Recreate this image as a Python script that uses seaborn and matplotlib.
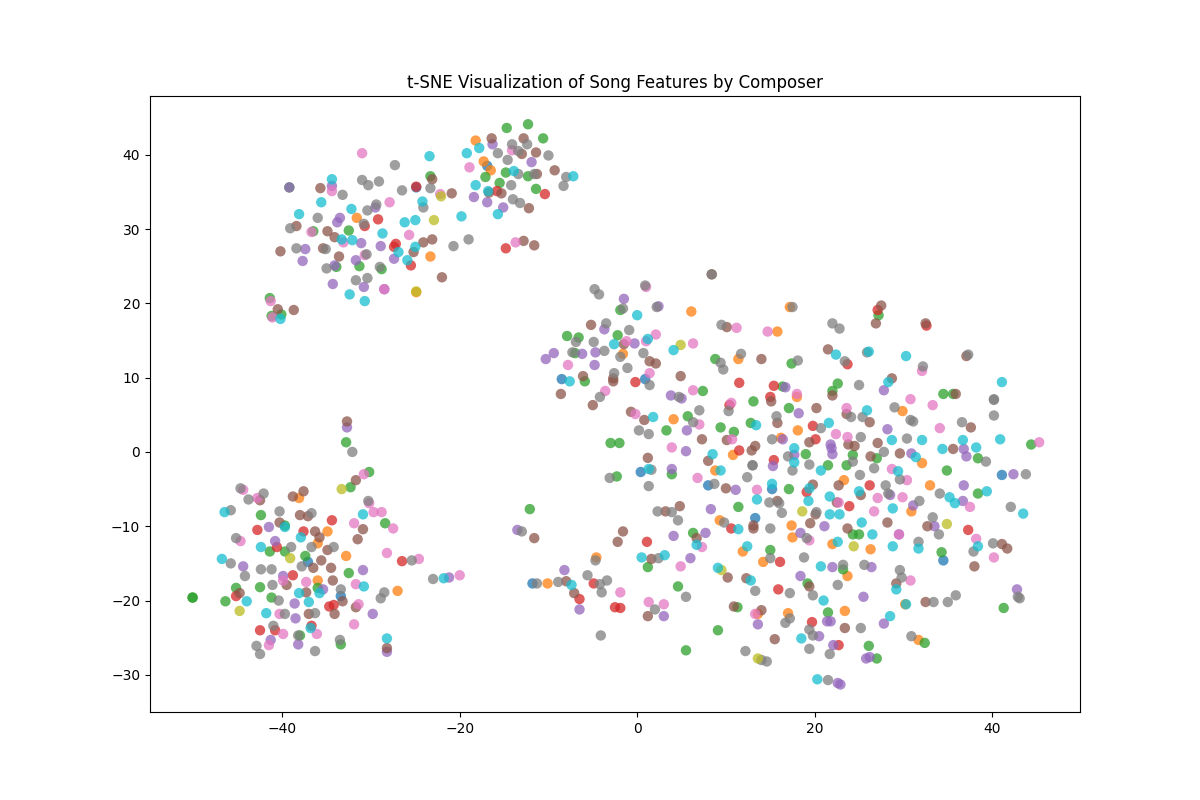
import matplotlib
matplotlib.use("Agg")
import matplotlib.pyplot as plt
import pandas as pd
import seaborn as sns

# t-SNE coordinates, one list per composer
composer_blue = [(-16.9,38.5),(-24.9,35.6),(-37.1,-14.8),(-33.4,-19.4),(-8.5,9.8),(0.9,9.8),(0.4,-2.7),(8,-4.5),(15.2,-5),
    (41.1,-3.1),(-11.8,-17.7),(13.3,-8.9),(34.5,-14.6)]

composer_orange = [(-18.2,41.9),(-17.3,39.1),(-16.5,37.9),(-31.6,31.5),(-23.3,26.3),(-24.9,21.5),
    (-38.1,-6.2),(-34.9,-10.7),(-36,-12.3),(-32.8,-14),(-36,-17.3),(-27,-18.7),
    (6.1,18.9),(15.8,16.2),(-1.6,13.2),(11.4,12.5),(4.1,4.4),(10.8,-0.4),(8.8,-2.5),(16.2,1.9),(17.2,19.5),
    (18,7.4),(29.9,5.5),(18.1,2.9),(32.1,-1.5),(23.3,-3.8),(33,-4.5),(30.9,-8),(17.4,-9.9),
    (-4.6,-14.2),(-10.1,-17.7),(9.3,-9.2),(11.9,-13.4),(14.2,-14.8),(13.6,-21.8),
    (17.5,-11.5),(22,-12.4),(26.3,-13.1),(23.7,-16.7),(30.2,-20.5),(17,-21.7),(23.4,-21.4),(31.7,-25.3)]

composer_green = [(-14.7,43.6),(-12.3,44.1),(-10.6,42.2),(-14.8,37.6),(-17.1,37),(-12.3,37.1),(-15.5,36.2),(-11.4,35.4),
    (-23.3,37.1),(-32.5,29.8),(-36.5,29.7),(-31.3,25),(-33.9,24.9),(-28.8,24.6),(-39.2,35.6),(-41.4,20.7),(-40.1,18.5),(-41.2,18.3),
    (-32.8,1.3),(-30.2,-2.7),(-32.3,-4.75),(-42.4,-8.5),(-39.7,-9.9),(-41.4,-13.4),(-39.7,-13.4),(-37.4,-14),(-28.4,-9.6),
    (-32.5,-16.3),(-42.5,-18.2),(-45.2,-18.3),(-41.2,-19.6),(-46.4,-20.1),(-36,-18.3),(-50.1,-19.6),(-50.1,-19.6),(-38,-24.7),(-33.4,-25.9),
    (-1.9,19.1),(-7.9,15.6),(-6.6,15.4),(-2.2,15.7),(-7,13.3),(-5.9,9.5),(7.4,8.2),(8.8,12.5),(13.1,6.8),(5.7,4.8),(3.3,2.9),
    (-3,1.2),(-2,1.2),(9.4,3.3),(10.9,2.7),(12.8,3.9),(3.9,-3),(-2.3,-3.3),
    (27.2,18.4),(17.4,11.9),(22.6,9.2),(22,8.2),(16.4,8.8),(34.5,7.8),(35.6,7.8),(17.1,5.9),(44.4,1),(19,-0.3),(24.3,-0.4),
    (27,-0.85),(21.5,-1.8),(23.6,-1.8),(38.4,-0.85),(34.9,-2.5),(17.1,-5),(38.4,-5.6),
    (-12.1,-7.7),(11.4,-7.4),(6.3,-10.9),(15,-13.2),(1.2,-15.5),(4.6,-18.1),(11.3,-20.9),(9.1,-24),(5.5,-26.7),
    (34.3,-13.5),(23.2,-15.8),(24.3,-11.1),(25,-11.1),(19.2,-17.7),(41.3,-21),(21.5,-21.6),(26.1,-26.1),(32.4,-25.7),(27,-27.8)]

composer_red = [(-24.9,35.7),(-30.7,30.4),(-29.2,31.3),(-15.8,35.1),(-10.4,34.7),(-27.2,28),(-27.4,27.6),(-25.5,25.1),(-14.8,27.4),
    (-34.4,-9.2),(-42.8,-10.5),(-37.6,-10.7),(-40.6,-12.8),(-26.5,-14.7),(-38.8,-16.6),(-45.2,-19.4),(-34.7,-20.8),(-34.2,-20.6),
    (-42.5,-24),(-40.8,-24),(-36.7,-23.4),
    (-0.2,9.4),(11.5,9.3),(15.4,8.9),(15,7.4),(10.4,6.3),(11.5,0.2),(15.4,-1.1),(27.1,19.1),
    (32.6,17),(23.7,11.8),(19.8,3.5),(20.1,1.7),(26.2,-4.5),(19.1,-5.4),(23.9,-7.3),(37.3,-10.5),
    (1.1,-12.1),(10.6,-10.3),(16.1,-14.8),(-4.9,-17.7),(-6.5,-19.8),(-2.5,-20.9),(-1.9,-21),(15.9,-18.5),
    (19.7,-22.9),(22.7,-26)]

composer_purple = [(-16.3,41.4),(-11.9,39),(-18.4,34.3),(-16.9,33.6),(-15.1,32.9),(-39.2,35.6),(-34.4,35.8),(-29.5,32.9),(-33.5,31.5),
    (-33.8,30.9),(-37.4,27.3),(-37.7,25.7),(-31.1,28.1),(-28.9,27.7),(-31.7,25.8),(-27.4,26),(-34.1,25.1),(-34.3,22.6),(-30.8,22.2),(-28.5,21.9),
    (-32.7,3.3),(-41.5,-10.1),(-40.8,-12),(-44.4,-15.4),(-39.9,-16.7),(-30.9,-15.9),(-35.4,-18.5),(-38.6,-20.4),(-38.5,-22.4),(-29.8,-21.8),
    (-41.3,-25.3),(-38.2,-25.9),(-28.2,-26.9),(-21.2,-16.9),
    (-1.5,20.6),(2.4,19.6),(-3.7,16.5),(-0.3,14.6),(-10.3,12.5),(-9.4,13.3),(-6.2,13.2),(-4.7,13.4),(-4.8,11.7),(3.8,7.6),(5,7.2),
    (5.6,2.9),(5.5,0.1),(3.9,-2.3),(15.3,-1.9),(11.1,-5.1),
    (16.7,8.7),(27.8,8.3),(18.2,5.2),(28.2,3.05),(16.4,1.7),(36.8,0.4),(37.1,-0.6),(21.8,1),(21.9,0.5),(22,-0.3),(17.7,-0.4),(30.9,-0.2),
    (42.4,-3),(36.8,-4.5),(28.5,-5.8),(36.7,-6.6),(31.1,-7.2),(21.1,-10),(33.5,-10),
    (-13.5,-10.5),(8.3,-7.7),(4.1,-11.3),(7.7,-10.9),(6,-14.3),(-8.2,-15.9),(-6.5,-21.2),(3,-22.1),(13.6,-23.2),
    (18.4,-10.9),(29.5,-11.1),(22,-15.5),(26.4,-15.5),(18.4,-16.7),(25.5,-19.5),(42.8,-18.5),(27.8,-23.1),(21.4,-22.8),(21.8,-22.8),
    (20.5,-24.8),(22.1,-26),(25.8,-27.8),(26.2,-27.6),(22.6,-31.1),(22.9,-31.3)]

composer_brown = [(-16.4,42.2),(-12.8,42.2),(-13,40.1),(-11.4,40.3),(-9.3,37.9),(-11.3,37.4),(-15.3,34.8),(-16.7,34.9),(-12.2,32.8),
    (-12.8,28.4),(-11.6,27.8),(-23.1,36.7),(-20.9,34.8),(-35.7,35.5),(-38.4,30.4),(-34.9,29.7),(-34.1,28.9),(-35.4,27.4),(-40.2,27),
    (-33.6,26.3),(-24.1,28.2),(-23.1,28.6),(-25.2,26.9),(-22,23.5),(-38.7,19.1),(-40.5,19.2),
    (-32.7,4.1),(-31.7,-3.8),(-37.6,-5.3),(-38.8,-6),(-42.5,-6.5),(-38,-8.5),(-37.1,-8.65),(-40.3,-9.5),(-36.3,-10.7),(-35.8,-11.5),
    (-34.9,-13.2),(-35.6,-14.6),(-36.5,-15.6),(-34.5,-15.6),(-34.3,-17.3),(-39.5,-17.9),(-37.3,-18.9),(-33.2,-20.1),(-31.7,-20.9),
    (-44.8,-19),(-37,-21.8),(-34.1,-21.8),(-30.9,-10.4),(-31.5,-11.75),(-28.2,-26.4),
    (8.4,23.9),(-5.2,17.1),(10.1,16.8),(-1.5,14.5),(14,12.5),(1.4,12.2),(2.1,11.9),(-6.1,10.2),(-2.7,9.9),(-2.7,9.5),(4.9,10.2),
    (-8.6,7.8),(-5,6.3),(-0.7,5.4),(0.8,4.3),(7.3,1.7),(10.1,1.6),(13.3,0.8),(12.9,0.2),(1.2,-0.8),(8,-1.2),(15.1,6.8),(15.8,3.9),(10,-4.9),
    (26.9,17.3),(32.5,17.3),(21.5,13.8),(37.1,12.9),(22,7.6),(28.7,9.9),(35.9,7.8),(20.2,5.9),(23.6,5.1),(26.2,4),(37.6,3.3),
    (19.4,1.3),(23.8,1),(24.5,0.8),(27.1,1.2),(26.3,-0.6),(29.6,-0.2),(35.6,0.4),(19.8,-4.4),(22.7,-4.5),(25.2,-5.8),(22.5,-6.8),
    (20.1,-8.4),(19.5,-9.6),(23.7,-10.3),(28.2,-9.5),(32.7,-10),(27.5,19.7),
    (4.8,-7.3),(3.2,-8),(13.1,-9.9),(13.1,-10.3),(-1.6,-10.7),(-2.2,-12.1),(-11.6,-11.6),(6.7,-11.6),(1.6,-14.4),(-8,-17.4),(-7.1,-19),
    (10.2,-16.9),(12.3,-17),(10.9,-20.8),(14,-21.3),(1.2,-22.1),(15.5,-25.2),(15.8,-6.6),
    (41.1,-12.4),(41.7,-13),(38,-15.4),(19.4,-18.1),(29.2,-17.7),(32.5,-20.2),(23.4,-23.7)]

composer_pink = [(-31,40.2),(-18.9,38.3),(-14.1,40.6),(-22.2,34.7),(-34.4,35.1),(-27.9,33.6),(-36.7,29.6),(-33.1,28.2),(-25.7,29.2),(-30.7,26.5),
    (-13.7,28.2),(-28.5,21.9),(-41.3,20.3),(-41.1,18.1),
    (-30.8,-3),(-44.4,-5.1),(-42.8,-6.2),(-30.2,-6.9),(-29.7,-8.1),(-28.8,-8.1),(-31.9,-9.6),(-27.5,-10.3),(-44.7,-12),(-28.2,-13.6),
    (-24.6,-14.4),(-20,-16.6),(-39.9,-17.3),(-37.3,-17.5),(-31.7,-17.8),(-31.4,-20.5),(-40.3,-21.8),(-31.9,-23.2),(-39.9,-24.5),(-36.1,-24.5),(-41.5,-26),
    (1,22.2),(11.2,16.7),(14.7,16.2),(2.1,15.8),(-1.2,14.9),(1,14.9),(6.3,14.6),(-7.8,11.7),(1.4,10.6),(-3.6,8.2),(6.3,8.3),(10.6,6.6),
    (-0.2,5.1),(7,3.7),(10.7,1.7),(3.9,0.6),(6.8,-3.5),(13.5,-5.1),
    (18,7.8),(32.1,10.9),(30.8,7.1),(33.3,6.3),(23.6,5.9),(34.1,3.2),(22.4,2.4),(23.7,2),(45.3,1.3),(28.7,-2.3),(30.4,-3.8),(27.1,-6.2),
    (29.9,-6.1),(22.7,-6.8),(37.5,-7.4),(26.7,-8),
    (7.3,-12.8),(4.9,-15.4),(-1.9,-18.9),(1.3,-20.2),(3,-20.5),(13.3,-21.8),
    (19.4,-11.9),(38.2,-11.7),(40.2,-14.2),(30.8,-17.3),(29.5,-11.1)]

composer_gray = [(-27.3,38.6),(-14.1,41.4),(-12.4,41.4),(-13.4,40.5),(-15.7,40.2),(-14.6,39.3),(-10,39.9),(-13.4,37.4),(-11.6,37.4),(-8,37),
    (-8.3,35.8),(-14.2,35.9),(-14,34),(-13.2,33.5),(-31,36.6),(-30.3,35.9),(-29.1,36.4),(-26.5,35.2),(-23.3,35.5),(-33.2,34.6),(-29.4,33.3),
    (-30.4,32.5),(-24.1,32.9),(-36,31.5),(-39.1,30.1),(-30.8,30.7),(-38.4,27.4),(-35.1,27.3),(-30.5,26.6),(-20.7,27.7),(-19,28.6),(-35,24.7),
    (-29,24.9),(-31.7,23.1),(-30.4,23.4),
    (-32.1,0),(-44.7,-4.9),(-42.1,-5.6),(-43.8,-6.4),(-45.8,-7.85),(-40.3,-8),(-36.7,-8.25),(-30.3,-6.6),(-45.2,-11.6),(-36.7,-12.8),(-34.2,-12.8),
    (-39,-12.8),(-45.8,-15),(-42.4,-15.8),(-41.2,-15.8),(-37.8,-15.4),(-44.2,-16.7),(-41.1,-17.9),(-33.4,-18.5),(-40.4,-20),(-39.7,-21.8),(-36.3,-21.7),
    (-41,-23.4),(-38.2,-24.7),(-33.5,-25.3),(-42.9,-26.1),(-42.5,-27.2),(-36.3,-26.8),(-28.5,-18.9),(-28.9,-19.7),(-25.4,-14.6),(-23,-17.1),
    (8.4,23.9),(0.9,22.4),(-4.8,21.9),(-4.3,21.2),(-1.6,19.3),(2.2,19.5),(-3.5,17.3),(-0.9,16.4),(-6.9,14.8),(-4.9,14.8),(-7.3,13.4),(-3.7,13.6),
    (-1.9,12.8),(0.7,13.3),(-2.6,10.6),(-1.1,11.3),(1.4,9),(-4.2,7.4),(4.7,7.4),(7,5.6),(6.3,4),(0.2,2.9),(1.3,2.4),(9.5,17.1),(11.7,13.2),
    (9.4,12),(9.7,11.1),(10.3,5.5),(15.7,4.8),(15.2,1.7),(13,-1.8),(13,-1.8),(12.4,-3.4),(8.7,-4.3),(1.6,-2.4),(-3.1,-3.5),(1.3,-4.6),
    (22,17.3),(22.8,16.6),(18.1,12.3),(23.4,12.2),(25.9,13.4),(37.3,13.1),(32.2,11.5),(25,9),(40.2,7.1),(40.2,7),(29,6),(24.1,4.7),(25.4,4.7),
    (30.8,4.3),(31.1,4.1),(40.2,4.9),(36.6,4),(20.7,3.2),(25.2,2),(30.4,1.8),(27.8,0),(17,-0.6),(24.3,-1.3),(19.4,-1.7),(17.5,-2.5),(26.7,-2.2),
    (25.1,-3.1),(29.6,-3.7),(28,-4.5),(28.3,-5.6),(39.3,-1.3),(43.8,-3),(34.1,-5.6),(31.8,-6.6),(42.1,-7.4),(16,-6.9),(16.3,-8.2),(20.2,-8.1),(33.3,-8.8),
    (17.5,19.5),(14.9,-6.8),
    (-13,-10.7),(2.3,-8),(3.9,-8.1),(4.6,-9.2),(9.8,-9.5),(15,-10.3),(15,-14.3),(2.4,-14.3),(-4.7,-14.6),(-5.6,-16.6),(-11.3,-17.7),(-8.9,-17.5),
    (-4.2,-17.8),(-3.4,-17.3),(-4,-18.9),(13.3,-18.7),(5.5,-19.5),(2,-21.2),(-4.1,-24.7),(12.2,-26.8),(14,-28),(14.6,-28.2),
    (19.1,-11.6),(31.7,-12.1),(37.9,-13.4),(40.1,-12.3),(18.8,-14.2),(23.2,-15.2),(25.6,-15.2),(29.6,-15.9),(29.8,-16.9),(22.6,-17.9),(17.2,-19),
    (19.8,-19.3),(33.4,-20.2),(35,-20.2),(35.9,-19.3),(42.9,-19.5),(43.1,-19.7),(17.2,-22.4),(16.7,-23),(19.4,-23.9),(19.8,-24.7),(25.2,-23.7),
    (30.9,-24.8),(19.4,-26.5),(21.7,-27.2),(21.5,-30.7),(34,-11.1)]

composer_olive = [(-22.1,34.4),(-22.9,31.2),(-24.9,21.6),(-33.3,-5),(-39.1,-14.3),(-44.8,-21.4),(4.9,14.4),(18.6,-8),(34.9,-9.7),
    (9.5,-15.9),(13.6,-27.8),(24.4,-12.7)]

composer_cyan = [(-23.4,39.8),(-19.2,40.2),(-17.8,40.9),(-13.9,37.8),(-7.2,37.1),(-18.2,35.9),(-16.8,35.1),(-15.7,32),(-34.4,36.7),(-35.6,33.6),
    (-38.1,32),(-32.2,32.7),(-24.2,33.7),(-19.8,31.7),(-26.2,30.9),(-25,31.2),(-28.7,29.4),(-32.1,28.5),(-33.3,28.6),(-25,27.6),(-26.9,26.9),
    (-25.9,25.8),(-32.4,21.2),(-30.7,20.3),(-40.2,17.9),
    (-46.5,-8.1),(-39.7,-10.1),(-30.9,-8.4),(-37.9,-11.5),(-42.4,-12.8),(-46.8,-14.4),(-30.8,-18.1),(-38.1,-19),(-35.8,-19),(-44,-20.1),(-37,-20.2),
    (-41.8,-21.7),(-36.8,-23.7),(-28.2,-25.1),(-21.8,-17),
    (0,18.4),(-2.6,14.5),(1.2,15.2),(4.1,13.7),(-7.6,9.5),(1.8,4.7),(13.4,3.6),(8.5,-0.3),(9.4,-2.5),(1.3,-2.3),(15.2,-4.3),(13.5,-6.4),
    (22.4,13.1),(26.1,13.5),(30.3,12.9),(41.1,9.4),(28.3,9.4),(25.9,5.6),(21.6,3.9),(28.7,1.6),(32.1,1.6),(36.7,1.6),(40.9,1.7),(17.7,0.5),(34.4,0.4),
    (38.2,0.6),(31.4,-0.7),(17.7,-1.4),(20.7,-2.5),(29.4,-2.6),(19.4,-4.9),(21.7,-6),(25,-5.3),(19.3,-6.6),(35.2,-6.1),(35.8,-6.9),(39.4,-5.3),
    (28.8,-7.6),(21.7,-8.4),(22.8,-8.4),(43.5,-8.3),(25.3,-9.5),
    (11.4,-10.4),(6.7,-12.5),(12.4,-12.7),(0.5,-14.2),(3.1,-13.9),(9.1,-15.6),(12.8,-17.3),(-7.4,-17.9),
    (22.6,-12.1),(26.5,-11.1),(28.8,-12.7),(31.7,-13),(38.4,-12.7),(20.7,-15.4),(29.2,-18.5),(30.3,-20.5),(21,-20),(28.5,-22.1),(18.5,-25.1),(20.3,-30.6)]

composers = {
    "blue": composer_blue, "orange": composer_orange, "green": composer_green, "red": composer_red,
    "purple": composer_purple, "brown": composer_brown, "pink": composer_pink, "gray": composer_gray,
    "olive": composer_olive, "cyan": composer_cyan,
}

rows = []
for name, pts in composers.items():
    for x, y in pts:
        rows.append({"composer": name, "x": x, "y": y})
df = pd.DataFrame(rows)

fig, ax = plt.subplots(figsize=(12, 8), dpi=100)
sns.scatterplot(data=df, x="x", y="y", hue="composer", palette="tab10",
                hue_order=list(composers), s=56, alpha=0.75, linewidth=0,
                legend=False, ax=ax)
ax.set_xlim(-54.9, 49.9)
ax.set_ylim(-35, 47.9)
ax.set_xlabel("")
ax.set_ylabel("")
ax.set_title("t-SNE Visualization of Song Features by Composer")
fig.savefig("out.png", dpi=100)
